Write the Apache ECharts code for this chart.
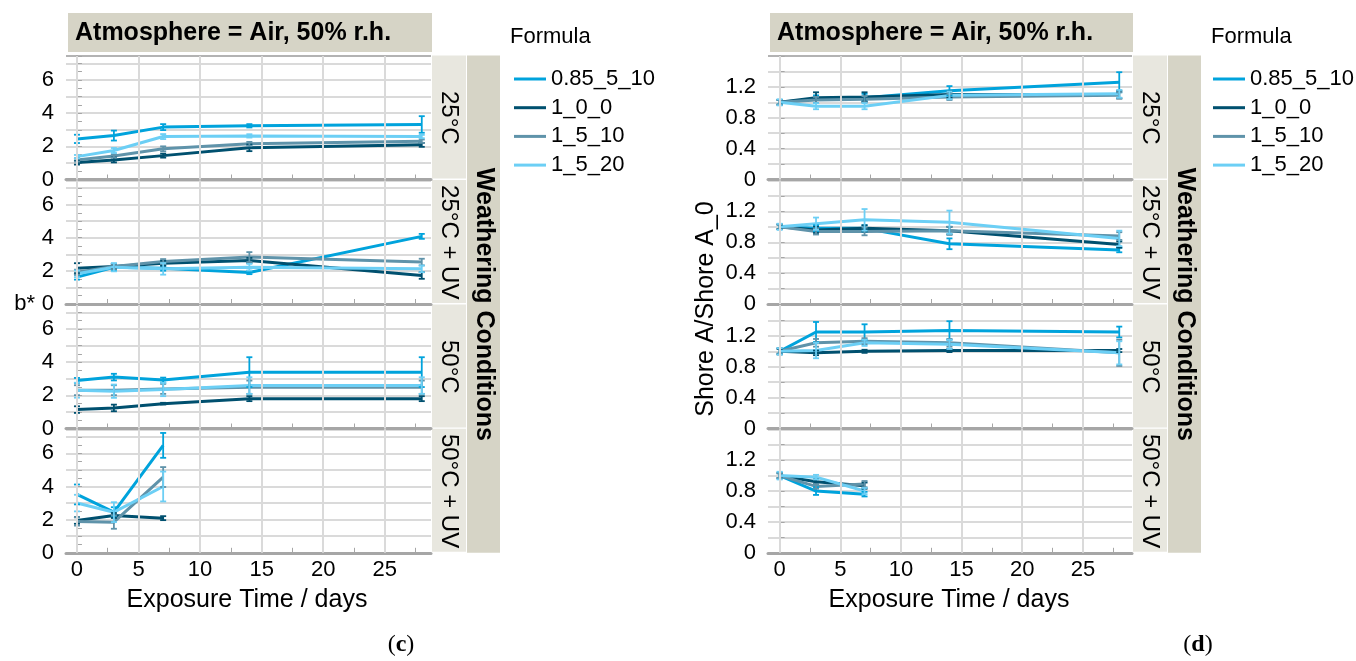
<!DOCTYPE html>
<html><head><meta charset="utf-8">
<script src="https://cdn.jsdelivr.net/npm/echarts@6/dist/echarts.min.js"></script>
<style>html,body{margin:0;padding:0;background:#fff}#c{width:1356px;height:661px}</style>
</head><body><div id="c"></div>
<script>
// ---------- data ----------
const days = [0, 3, 7, 14, 28];
const daysShort = [0, 3, 7];
const formulas = ['0.85_5_10', '1_0_0', '1_5_10', '1_5_20'];
const conditions = ['25°C', '25°C + UV', '50°C', '50°C + UV'];
const xTicks = [0, 5, 10, 15, 20, 25];
const xMinorTicks = [2.5, 7.5, 12.5, 17.5, 22.5, 27.5];
const bTicks = [0, 2, 4, 6];
const shoreTicks = [0, 0.4, 0.8, 1.2];

// b* values, rows follow formulas order
const b25 = [[2.45, 2.65, 3.16, 3.24, 3.32], [1.02, 1.18, 1.44, 1.91, 2.09], [1.18, 1.42, 1.85, 2.15, 2.31], [1.38, 1.75, 2.59, 2.63, 2.59]];
const b25Err = [[0.25, 0.3, 0.18, 0.1, 0.5], [0.12, 0.15, 0.12, 0.2, 0.12], [0.1, 0.1, 0.15, 0.12, 0.1], [0.1, 0.15, 0.15, 0.1, 0.1]];
const b25uv = [[1.62, 2.22, 2.16, 1.9, 4.08], [2.16, 2.26, 2.46, 2.63, 1.72], [1.92, 2.26, 2.56, 2.83, 2.53], [1.82, 2.22, 2.12, 2.22, 2.12]];
const b25uvErr = [[0.15, 0.2, 0.15, 0.1, 0.15], [0.3, 0.15, 0.15, 0.15, 0.2], [0.15, 0.15, 0.15, 0.3, 0.2], [0.2, 0.25, 0.35, 0.2, 0.2]];
const b50 = [[2.9, 3.1, 2.92, 3.4, 3.4], [1.14, 1.24, 1.5, 1.8, 1.8], [2.31, 2.31, 2.39, 2.49, 2.49], [2.31, 2.25, 2.35, 2.59, 2.59]];
const b50Err = [[0.15, 0.2, 0.15, 0.9, 0.9], [0.2, 0.2, 0.05, 0.15, 0.15], [0.3, 0.3, 0.3, 0.4, 0.4], [0.45, 0.4, 0.4, 0.5, 0.5]];
const b50uv = [[3.52, 2.45, 6.48], [1.95, 2.25, 2.09], [1.89, 1.85, 4.57], [3.0, 2.45, 4.0]];
const b50uvErr = [[0.6, 0.3, 0.75], [0.2, 0.15, 0.12], [0.25, 0.4, 0.6], [0.5, 0.6, 0.9]];

// Shore A / Shore A_0 values
const s25 = [[1.0, 1.04, 1.06, 1.15, 1.26], [1.0, 1.06, 1.07, 1.1, 1.1], [1.0, 1.03, 1.04, 1.07, 1.09], [1.0, 0.95, 0.95, 1.09, 1.11]];
const s25Err = [[0.03, 0.05, 0.05, 0.06, 0.13], [0.03, 0.07, 0.06, 0.04, 0.05], [0.03, 0.04, 0.04, 0.04, 0.04], [0.04, 0.04, 0.04, 0.05, 0.05]];
const s25uv = [[1.0, 0.98, 0.98, 0.78, 0.7], [1.0, 0.96, 0.98, 0.95, 0.77], [1.0, 0.94, 0.94, 0.95, 0.88], [1.0, 1.04, 1.09, 1.06, 0.85]];
const s25uvErr = [[0.03, 0.04, 0.04, 0.07, 0.03], [0.03, 0.04, 0.04, 0.05, 0.04], [0.03, 0.04, 0.05, 0.05, 0.05], [0.04, 0.08, 0.14, 0.15, 0.1]];
const s50 = [[1.0, 1.25, 1.25, 1.27, 1.25], [1.0, 0.98, 1.0, 1.01, 1.01], [1.0, 1.11, 1.13, 1.11, 0.98], [1.0, 1.01, 1.11, 1.09, 0.98]];
const s50Err = [[0.04, 0.13, 0.1, 0.12, 0.07], [0.03, 0.03, 0.02, 0.02, 0.02], [0.04, 0.05, 0.04, 0.05, 0.17], [0.04, 0.1, 0.04, 0.06, 0.15]];
const s50uv = [[1.0, 0.8, 0.76], [1.0, 0.92, 0.87], [1.0, 0.86, 0.89], [1.0, 0.98, 0.8]];
const s50uvErr = [[0.04, 0.05, 0.03], [0.03, 0.03, 0.04], [0.03, 0.03, 0.04], [0.05, 0.03, 0.04]];

// ---------- style ----------
const colors = ['#00a3dc', '#00506f', '#5f93aa', '#6ccff5'];
const FONT = '"Liberation Sans", Arial, sans-serif';
const AXIS = '#a6a6a6';
const GRIDC = '#dadada';
const STRIP_IN = '#e8e7df';
const STRIP_OUT = '#d6d4c6';

const tops = [56, 180.5, 305, 429.3];
const H = 123.5;

const charts = [
  { left: 66, width: 365, xMin: -0.89, xMax: 28.75, yMax: 7.45, yInt: 1, minor: true, labels: bTicks,
    panels: [[b25, b25Err, days], [b25uv, b25uvErr, days], [b50, b50Err, days], [b50uv, b50uvErr, daysShort]] },
  { left: 768, width: 364, xMin: -0.96, xMax: 29.05, yMax: 1.6, yInt: 0.2, minor: false, labels: shoreTicks,
    panels: [[s25, s25Err, days], [s25uv, s25uvErr, days], [s50, s50Err, days], [s50uv, s50uvErr, daysShort]] }
];

const grid = [], xAxis = [], yAxis = [], series = [], graphic = [];

function errSeries(color, xi, yi, pts) {
  return {
    type: 'custom', xAxisIndex: xi, yAxisIndex: yi, data: pts, z: 3, silent: true,
    encode: { x: 0, y: [1, 2] },
    renderItem: function (params, api) {
      const x = api.value(0), lo = api.value(1), hi = api.value(2);
      const a = api.coord([x, lo]), b = api.coord([x, hi]);
      const w = 3;
      const st = { stroke: color, lineWidth: 1.8 };
      return { type: 'group', children: [
        { type: 'line', shape: { x1: a[0], y1: a[1], x2: b[0], y2: b[1] }, style: st },
        { type: 'line', shape: { x1: a[0] - w, y1: a[1], x2: a[0] + w, y2: a[1] }, style: st },
        { type: 'line', shape: { x1: b[0] - w, y1: b[1], x2: b[0] + w, y2: b[1] }, style: st }
      ] };
    }
  };
}

charts.forEach((c, ci) => {
  c.panels.forEach((p, pi) => {
    const g = ci * 4 + pi;
    const isBottom = pi === 3;
    grid.push({ left: c.left, top: tops[pi], width: c.width, height: H, containLabel: false });
    xAxis.push({
      gridIndex: g, type: 'value', min: c.xMin, max: c.xMax, position: 'bottom', z: 4,
      axisLine: { show: true, onZero: false, lineStyle: { color: AXIS, width: 3 } },
      axisTick: { show: true, inside: true, length: 5, customValues: xTicks, lineStyle: { color: AXIS, width: 1 } },
      axisLabel: { show: isBottom, customValues: xTicks, margin: 6, fontSize: 22, color: '#000', fontFamily: FONT },
      splitLine: { show: false }
    });
    xAxis.push({
      gridIndex: g, type: 'value', min: c.xMin, max: c.xMax, position: 'bottom',
      axisLine: { show: false },
      axisTick: { show: true, inside: true, length: 5, customValues: xMinorTicks, lineStyle: { color: AXIS, width: 1 } },
      axisLabel: { show: false }, splitLine: { show: false }
    });
    const labels = c.labels;
    yAxis.push({
      gridIndex: g, type: 'value', min: 0, max: c.yMax, interval: c.yInt,
      axisLine: { show: true, lineStyle: { color: AXIS, width: 2 } },
      axisTick: { show: true, inside: true, length: 5, lineStyle: { color: AXIS } },
      minorTick: { show: c.minor, splitNumber: 2, length: 5, lineStyle: { color: AXIS } },
      axisLabel: {
        margin: 12, fontSize: 22, color: '#000', fontFamily: FONT,
        formatter: function (v) {
          const hit = labels.find(l => Math.abs(l - v) < 1e-6);
          return hit === undefined ? '' : String(hit);
        }
      },
      splitLine: { show: true, lineStyle: { color: GRIDC, width: 2 } }
    });
    // vertical grid lines at the x tick values, through the axis scale
    series.push({
      type: 'line', xAxisIndex: g * 2, yAxisIndex: g, data: [], z: 1, silent: true,
      markLine: {
        silent: true, symbol: ['none', 'none'], label: { show: false }, animation: false,
        lineStyle: { color: GRIDC, width: 2, type: 'solid' },
        emphasis: { disabled: true },
        data: xTicks.map(v => ({ xAxis: v }))
      }
    });
    const vals = p[0], errs = p[1], xs = p[2];
    formulas.forEach((f, fi) => {
      series.push({
        type: 'line', name: f, xAxisIndex: g * 2, yAxisIndex: g,
        data: xs.map((d, i) => [d, vals[fi][i]]),
        symbol: 'none', showSymbol: false, z: 2,
        lineStyle: { width: 3, color: colors[fi] }, itemStyle: { color: colors[fi] }
      });
    });
    formulas.forEach((f, fi) => {
      series.push(errSeries(colors[fi], g * 2, g,
        xs.map((d, i) => [d, vals[fi][i] - errs[fi][i], vals[fi][i] + errs[fi][i]])));
    });

    // inner strip
    const sx = c.left + c.width + 1;
    graphic.push({ type: 'rect', shape: { x: sx, y: tops[pi] - 0.5, width: 34, height: H - 0.5 }, style: { fill: STRIP_IN }, z: 1 });
    graphic.push({ type: 'text', x: sx + 17, y: tops[pi] + H / 2, rotation: -Math.PI / 2,
      style: { text: conditions[pi], font: '24px ' + FONT, fill: '#000', align: 'center', verticalAlign: 'middle' }, z: 2 });
  });
  const sx = c.left + c.width + 1;
  // outer strip
  graphic.push({ type: 'rect', shape: { x: sx + 35, y: tops[0] - 0.5, width: 33, height: tops[3] + H - tops[0] + 0.5 }, style: { fill: STRIP_OUT }, z: 1 });
  graphic.push({ type: 'text', x: sx + 51.5, y: (tops[0] + tops[3] + H) / 2, rotation: -Math.PI / 2,
    style: { text: 'Weathering Conditions', font: 'bold 25px ' + FONT, fill: '#000', align: 'center', verticalAlign: 'middle' }, z: 2 });
  // header
  graphic.push({ type: 'rect', shape: { x: c.left + 2, y: 13, width: c.width - 1, height: 39 }, style: { fill: STRIP_OUT }, z: 1 });
  graphic.push({ type: 'text', x: c.left + 9, y: 33,
    style: { text: 'Atmosphere = Air, 50% r.h.', font: 'bold 25px ' + FONT, fill: '#000', align: 'left', verticalAlign: 'middle' }, z: 2 });
  // top border
  graphic.push({ type: 'line', shape: { x1: c.left, y1: tops[0], x2: c.left + c.width, y2: tops[0] }, style: { stroke: AXIS, lineWidth: 1.5 }, z: 5 });
  // x title
  graphic.push({ type: 'text', x: c.left + 181, y: 600,
    style: { text: 'Exposure Time / days', font: '25px ' + FONT, fill: '#000', align: 'center', verticalAlign: 'middle' } });
  // legend title
  graphic.push({ type: 'text', x: sx + 78, y: 37,
    style: { text: 'Formula', font: '22px ' + FONT, fill: '#000', align: 'left', verticalAlign: 'middle' } });
});

// y titles
graphic.push({ type: 'text', x: 35, y: 304,
  style: { text: 'b*', font: '22px ' + FONT, fill: '#000', align: 'right', verticalAlign: 'middle' } });
graphic.push({ type: 'text', x: 706, y: 309, rotation: Math.PI / 2,
  style: { text: 'Shore A/Shore A_0', font: '25px ' + FONT, fill: '#000', align: 'center', verticalAlign: 'middle' } });
// captions
const capRich = { b: { font: 'bold 24px "Liberation Serif", serif', fill: '#000' } };
graphic.push({ type: 'text', x: 401, y: 645,
  style: { text: '({b|c})', rich: capRich, font: '24px "Liberation Serif", serif', fill: '#000', align: 'center', verticalAlign: 'middle' } });
graphic.push({ type: 'text', x: 1198, y: 645,
  style: { text: '({b|d})', rich: capRich, font: '24px "Liberation Serif", serif', fill: '#000', align: 'center', verticalAlign: 'middle' } });

function legendAt(x) {
  return {
    orient: 'vertical', left: x, top: 63, data: formulas, icon: 'rect',
    itemWidth: 32, itemHeight: 3, itemGap: 6.7, selectedMode: false,
    textStyle: { fontSize: 22, lineHeight: 22, color: '#000', fontFamily: FONT }
  };
}

const chart = echarts.init(document.getElementById('c'), null, { renderer: 'canvas' });
chart.setOption({
  animation: false,
  backgroundColor: '#fff',
  grid, xAxis, yAxis, series, graphic,
  legend: [legendAt(509), legendAt(1208)]
});
</script></body></html>
